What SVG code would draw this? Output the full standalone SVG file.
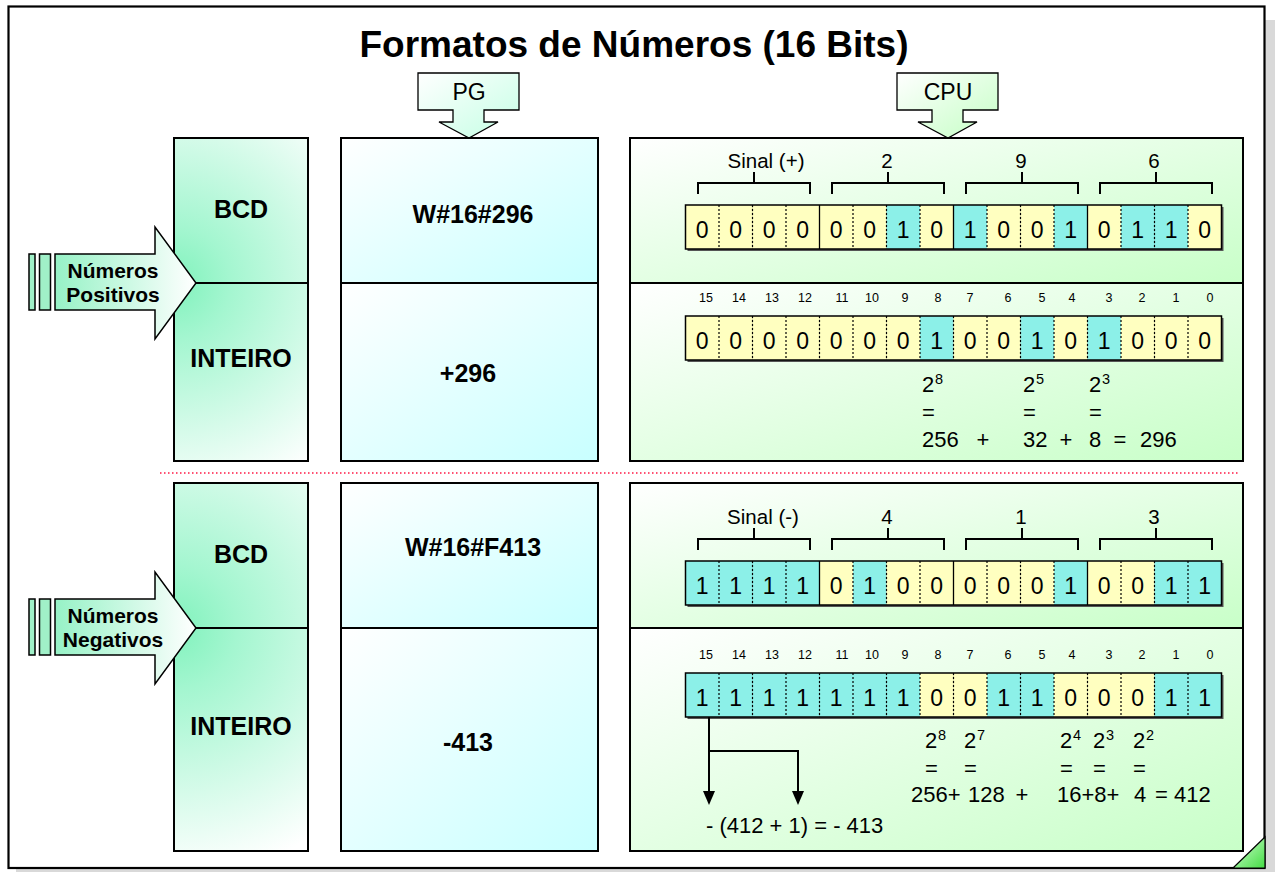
<svg xmlns="http://www.w3.org/2000/svg" width="1275" height="872" viewBox="0 0 1275 872">
  <defs>
    <style>
      text { font-family: "Liberation Sans", Arial, sans-serif; fill: #000; }
      .title { font-size: 37px; font-weight: bold; text-anchor: middle; }
      .lbl { font-size: 25px; font-weight: bold; text-anchor: middle; }
      .arrow-lbl { font-size: 21px; font-weight: bold; text-anchor: middle; }
      .tag { font-size: 23px; text-anchor: middle; }
      .grp { font-size: 20.5px; text-anchor: middle; }
      .idx { font-size: 12.5px; text-anchor: middle; }
      .bt { font-size: 23px; text-anchor: middle; }
      .ann { font-size: 22px; }
      .annm { font-size: 22px; text-anchor: middle; }
      .sup { font-size: 14.5px; }
      .box { stroke: #000; stroke-width: 2; }
      .b0 { fill: #ffffc0; }
      .b1 { fill: #8cf0e8; }
      .sep { stroke: #000; stroke-width: 1.2; stroke-dasharray: 2 2; }
      .sepS { stroke: #000; stroke-width: 1.3; }
      .bo { fill: none; stroke: #000; stroke-width: 1.5; }
      .bsh { fill: #555; }
      .brk { fill: none; stroke: #000; stroke-width: 2; }
      .con { fill: none; stroke: #000; stroke-width: 2; }
      .head { fill: #000; }
    </style>
    <radialGradient id="gTypePos" gradientUnits="userSpaceOnUse" cx="174" cy="283" r="225">
      <stop offset="0" stop-color="#80f2bc"/>
      <stop offset="0.25" stop-color="#a4f6d0"/>
      <stop offset="1" stop-color="#ffffff"/>
    </radialGradient>
    <radialGradient id="gTypeNeg" gradientUnits="userSpaceOnUse" cx="174" cy="628" r="250">
      <stop offset="0" stop-color="#80f2bc"/>
      <stop offset="0.25" stop-color="#a4f6d0"/>
      <stop offset="1" stop-color="#ffffff"/>
    </radialGradient>
    <linearGradient id="gCyan" x1="0" y1="0" x2="1" y2="1">
      <stop offset="0" stop-color="#ffffff"/>
      <stop offset="1" stop-color="#c8ffff"/>
    </linearGradient>
    <linearGradient id="gGreen" x1="0" y1="0" x2="1" y2="1">
      <stop offset="0" stop-color="#ffffff"/>
      <stop offset="1" stop-color="#c8ffc8"/>
    </linearGradient>
    <linearGradient id="gPG" x1="0" y1="0" x2="1" y2="1">
      <stop offset="0" stop-color="#ffffff"/>
      <stop offset="1" stop-color="#c4ffe4"/>
    </linearGradient>
    <linearGradient id="gCPU" x1="0" y1="0" x2="1" y2="1">
      <stop offset="0" stop-color="#ffffff"/>
      <stop offset="1" stop-color="#c4ffc4"/>
    </linearGradient>
    <linearGradient id="gSide" x1="0" y1="0" x2="1" y2="0">
      <stop offset="0" stop-color="#96f2c6"/>
      <stop offset="1" stop-color="#ffffff"/>
    </linearGradient>
    <linearGradient id="gFold" x1="0" y1="0" x2="1" y2="1">
      <stop offset="0" stop-color="#d8ffd8"/>
      <stop offset="1" stop-color="#44dd44"/>
    </linearGradient>
    <!-- downward arrow shape used for the PG / CPU tags -->
    <path id="tagArrow" d="M-51,0 H50 V37 H15 V49 H29 L0,65 L-30,49 H-16 V37 H-51 Z"/>
    <!-- right-pointing arrow with two trailing bars -->
    <g id="sideArrow">
      <rect x="29" y="0" width="6" height="56" fill="#a0f0c8" stroke="#000" stroke-width="1.5"/>
      <rect x="39.5" y="0" width="11" height="56" fill="#a0f0c8" stroke="#000" stroke-width="1.5"/>
      <path d="M55,0 H155 V-27 L196,29 L155,85 V56 H55 Z" fill="url(#gSide)" stroke="#000" stroke-width="1.5"/>
    </g>
  </defs>

  <!-- page with drop shadow -->
  <g id="frame">
    <rect x="16" y="20" width="1259" height="856" fill="#d9d9d9"/>
    <rect x="8.5" y="6.5" width="1256" height="861.5" fill="#ffffff" stroke="#000" stroke-width="2.2"/>
    <polygon points="1233,868 1265,837 1265,868" fill="url(#gFold)" stroke="#000" stroke-width="1.2"/>
  </g>

  <g id="title">
    <text class="title" x="634" y="57">Formatos de Números (16 Bits)</text>
  </g>

  <g id="tag-pg">
    <use href="#tagArrow" x="469" y="73" fill="url(#gPG)" stroke="#000" stroke-width="1.3"/>
    <text class="tag" x="469" y="100">PG</text>
  </g>
  <g id="tag-cpu">
    <use href="#tagArrow" x="948" y="73" fill="url(#gCPU)" stroke="#000" stroke-width="1.3"/>
    <text class="tag" x="948" y="100">CPU</text>
  </g>

  <!-- separator between positive and negative sections -->
  <line x1="160" y1="473" x2="1240" y2="473" stroke="#ff1744" stroke-width="1.5" stroke-dasharray="1.5 2.5"/>

  <!-- ===== positive numbers ===== -->
  <g id="type-pos">
    <rect class="box" x="174" y="138" width="134" height="145" fill="url(#gTypePos)"/>
    <rect class="box" x="174" y="283" width="134" height="178" fill="url(#gTypePos)"/>
    <text class="lbl" x="241" y="218">BCD</text>
    <text class="lbl" x="241" y="367">INTEIRO</text>
  </g>
  <g id="arrow-pos">
    <use href="#sideArrow" x="0" y="254"/>
    <text class="arrow-lbl" x="113" y="278">Números</text>
    <text class="arrow-lbl" x="113" y="302">Positivos</text>
  </g>
  <g id="pg-pos">
    <rect class="box" x="341" y="138" width="257" height="145" fill="url(#gCyan)"/>
    <rect class="box" x="341" y="283" width="257" height="178" fill="url(#gCyan)"/>
    <text class="lbl" x="473" y="223">W#16#296</text>
    <text class="lbl" x="468" y="382">+296</text>
  </g>
  <g id="cpu-pos">
    <rect class="box" x="630" y="138" width="613" height="145" fill="url(#gGreen)"/>
    <rect class="box" x="630" y="283" width="613" height="178" fill="url(#gGreen)"/>

    <!-- nibble brackets -->
    <path class="brk" d="M698,194 V183 H810 V194 M754,183 V172"/>
    <path class="brk" d="M832,194 V183 H944 V194 M888,183 V172"/>
    <path class="brk" d="M966,194 V183 H1078 V194 M1022,183 V172"/>
    <path class="brk" d="M1100,194 V183 H1212 V194 M1156,183 V172"/>
    <text class="grp" x="766" y="168">Sinal (+)</text>
    <text class="grp" x="887" y="168">2</text>
    <text class="grp" x="1021" y="168">9</text>
    <text class="grp" x="1154" y="168">6</text>

    <!-- BCD 0000 0010 1001 0110 -->
    <g id="bits-bcd-pos" transform="translate(685.5,205)">
      <rect class="bsh" x="2" y="2" width="536" height="44"/>
      <rect class="b0" x="0" y="0" width="33.5" height="44"/>
      <rect class="b0" x="33.5" y="0" width="33.5" height="44"/>
      <rect class="b0" x="67" y="0" width="33.5" height="44"/>
      <rect class="b0" x="100.5" y="0" width="33.5" height="44"/>
      <rect class="b0" x="134" y="0" width="33.5" height="44"/>
      <rect class="b0" x="167.5" y="0" width="33.5" height="44"/>
      <rect class="b1" x="201" y="0" width="33.5" height="44"/>
      <rect class="b0" x="234.5" y="0" width="33.5" height="44"/>
      <rect class="b1" x="268" y="0" width="33.5" height="44"/>
      <rect class="b0" x="301.5" y="0" width="33.5" height="44"/>
      <rect class="b0" x="335" y="0" width="33.5" height="44"/>
      <rect class="b1" x="368.5" y="0" width="33.5" height="44"/>
      <rect class="b0" x="402" y="0" width="33.5" height="44"/>
      <rect class="b1" x="435.5" y="0" width="33.5" height="44"/>
      <rect class="b1" x="469" y="0" width="33.5" height="44"/>
      <rect class="b0" x="502.5" y="0" width="33.5" height="44"/>
      <path class="sep" d="M33.5,0V44M67,0V44M100.5,0V44M167.5,0V44M201,0V44M234.5,0V44M301.5,0V44M335,0V44M368.5,0V44M435.5,0V44M469,0V44M502.5,0V44"/>
      <path class="sepS" d="M134,0V44M268,0V44M402,0V44"/>
      <rect class="bo" x="0" y="0" width="536" height="44"/>
      <text class="bt" x="16.75" y="33">0</text>
      <text class="bt" x="50.25" y="33">0</text>
      <text class="bt" x="83.75" y="33">0</text>
      <text class="bt" x="117.25" y="33">0</text>
      <text class="bt" x="150.75" y="33">0</text>
      <text class="bt" x="184.25" y="33">0</text>
      <text class="bt" x="217.75" y="33">1</text>
      <text class="bt" x="251.25" y="33">0</text>
      <text class="bt" x="284.75" y="33">1</text>
      <text class="bt" x="318.25" y="33">0</text>
      <text class="bt" x="351.75" y="33">0</text>
      <text class="bt" x="385.25" y="33">1</text>
      <text class="bt" x="418.75" y="33">0</text>
      <text class="bt" x="452.25" y="33">1</text>
      <text class="bt" x="485.75" y="33">1</text>
      <text class="bt" x="519.25" y="33">0</text>
    </g>

    <!-- bit indices -->
    <g id="idx-pos">
      <text class="idx" x="706" y="302">15</text>
      <text class="idx" x="739" y="302">14</text>
      <text class="idx" x="772" y="302">13</text>
      <text class="idx" x="805" y="302">12</text>
      <text class="idx" x="842" y="302">11</text>
      <text class="idx" x="872" y="302">10</text>
      <text class="idx" x="905" y="302">9</text>
      <text class="idx" x="938" y="302">8</text>
      <text class="idx" x="970" y="302">7</text>
      <text class="idx" x="1008" y="302">6</text>
      <text class="idx" x="1042" y="302">5</text>
      <text class="idx" x="1072" y="302">4</text>
      <text class="idx" x="1109" y="302">3</text>
      <text class="idx" x="1142" y="302">2</text>
      <text class="idx" x="1176" y="302">1</text>
      <text class="idx" x="1210" y="302">0</text>
    </g>

    <!-- integer 0000 0001 0010 1000 -->
    <g id="bits-int-pos" transform="translate(685.5,316)">
      <rect class="bsh" x="2" y="2" width="536" height="44"/>
      <rect class="b0" x="0" y="0" width="33.5" height="44"/>
      <rect class="b0" x="33.5" y="0" width="33.5" height="44"/>
      <rect class="b0" x="67" y="0" width="33.5" height="44"/>
      <rect class="b0" x="100.5" y="0" width="33.5" height="44"/>
      <rect class="b0" x="134" y="0" width="33.5" height="44"/>
      <rect class="b0" x="167.5" y="0" width="33.5" height="44"/>
      <rect class="b0" x="201" y="0" width="33.5" height="44"/>
      <rect class="b1" x="234.5" y="0" width="33.5" height="44"/>
      <rect class="b0" x="268" y="0" width="33.5" height="44"/>
      <rect class="b0" x="301.5" y="0" width="33.5" height="44"/>
      <rect class="b1" x="335" y="0" width="33.5" height="44"/>
      <rect class="b0" x="368.5" y="0" width="33.5" height="44"/>
      <rect class="b1" x="402" y="0" width="33.5" height="44"/>
      <rect class="b0" x="435.5" y="0" width="33.5" height="44"/>
      <rect class="b0" x="469" y="0" width="33.5" height="44"/>
      <rect class="b0" x="502.5" y="0" width="33.5" height="44"/>
      <path class="sep" d="M33.5,0V44M67,0V44M100.5,0V44M134,0V44M167.5,0V44M201,0V44M234.5,0V44M268,0V44M301.5,0V44M335,0V44M368.5,0V44M402,0V44M435.5,0V44M469,0V44M502.5,0V44"/>
      <rect class="bo" x="0" y="0" width="536" height="44"/>
      <text class="bt" x="16.75" y="33">0</text>
      <text class="bt" x="50.25" y="33">0</text>
      <text class="bt" x="83.75" y="33">0</text>
      <text class="bt" x="117.25" y="33">0</text>
      <text class="bt" x="150.75" y="33">0</text>
      <text class="bt" x="184.25" y="33">0</text>
      <text class="bt" x="217.75" y="33">0</text>
      <text class="bt" x="251.25" y="33">1</text>
      <text class="bt" x="284.75" y="33">0</text>
      <text class="bt" x="318.25" y="33">0</text>
      <text class="bt" x="351.75" y="33">1</text>
      <text class="bt" x="385.25" y="33">0</text>
      <text class="bt" x="418.75" y="33">1</text>
      <text class="bt" x="452.25" y="33">0</text>
      <text class="bt" x="485.75" y="33">0</text>
      <text class="bt" x="519.25" y="33">0</text>
    </g>

    <!-- weights: 256 + 32 + 8 = 296 -->
    <g id="sum-pos">
      <text class="ann" x="922" y="392">2</text><text class="sup" x="935" y="384">8</text>
      <text class="ann" x="1023" y="392">2</text><text class="sup" x="1036" y="384">5</text>
      <text class="ann" x="1089" y="392">2</text><text class="sup" x="1102" y="384">3</text>
      <text class="ann" x="922" y="420">=</text>
      <text class="ann" x="1023" y="420">=</text>
      <text class="ann" x="1089" y="420">=</text>
      <text class="ann" x="922" y="447">256</text>
      <text class="annm" x="983" y="447">+</text>
      <text class="ann" x="1023" y="447">32</text>
      <text class="annm" x="1066" y="447">+</text>
      <text class="ann" x="1089" y="447">8</text>
      <text class="annm" x="1120" y="447">=</text>
      <text class="ann" x="1140" y="447">296</text>
    </g>
  </g>

  <!-- ===== negative numbers ===== -->
  <g id="type-neg">
    <rect class="box" x="174" y="483" width="134" height="145" fill="url(#gTypeNeg)"/>
    <rect class="box" x="174" y="628" width="134" height="223" fill="url(#gTypeNeg)"/>
    <text class="lbl" x="241" y="563">BCD</text>
    <text class="lbl" x="241" y="735">INTEIRO</text>
  </g>
  <g id="arrow-neg">
    <use href="#sideArrow" x="0" y="599"/>
    <text class="arrow-lbl" x="113" y="623">Números</text>
    <text class="arrow-lbl" x="113" y="647">Negativos</text>
  </g>
  <g id="pg-neg">
    <rect class="box" x="341" y="483" width="257" height="145" fill="url(#gCyan)"/>
    <rect class="box" x="341" y="628" width="257" height="223" fill="url(#gCyan)"/>
    <text class="lbl" x="473" y="556">W#16#F413</text>
    <text class="lbl" x="468" y="751">-413</text>
  </g>
  <g id="cpu-neg">
    <rect class="box" x="630" y="483" width="613" height="145" fill="url(#gGreen)"/>
    <rect class="box" x="630" y="628" width="613" height="223" fill="url(#gGreen)"/>

    <path class="brk" d="M698,550 V539 H810 V550 M754,539 V528"/>
    <path class="brk" d="M832,550 V539 H944 V550 M888,539 V528"/>
    <path class="brk" d="M966,550 V539 H1078 V550 M1022,539 V528"/>
    <path class="brk" d="M1100,550 V539 H1212 V550 M1156,539 V528"/>
    <text class="grp" x="763" y="524">Sinal (-)</text>
    <text class="grp" x="887" y="524">4</text>
    <text class="grp" x="1021" y="524">1</text>
    <text class="grp" x="1154" y="524">3</text>

    <!-- BCD 1111 0100 0001 0011 -->
    <g id="bits-bcd-neg" transform="translate(685.5,561)">
      <rect class="bsh" x="2" y="2" width="536" height="44"/>
      <rect class="b1" x="0" y="0" width="33.5" height="44"/>
      <rect class="b1" x="33.5" y="0" width="33.5" height="44"/>
      <rect class="b1" x="67" y="0" width="33.5" height="44"/>
      <rect class="b1" x="100.5" y="0" width="33.5" height="44"/>
      <rect class="b0" x="134" y="0" width="33.5" height="44"/>
      <rect class="b1" x="167.5" y="0" width="33.5" height="44"/>
      <rect class="b0" x="201" y="0" width="33.5" height="44"/>
      <rect class="b0" x="234.5" y="0" width="33.5" height="44"/>
      <rect class="b0" x="268" y="0" width="33.5" height="44"/>
      <rect class="b0" x="301.5" y="0" width="33.5" height="44"/>
      <rect class="b0" x="335" y="0" width="33.5" height="44"/>
      <rect class="b1" x="368.5" y="0" width="33.5" height="44"/>
      <rect class="b0" x="402" y="0" width="33.5" height="44"/>
      <rect class="b0" x="435.5" y="0" width="33.5" height="44"/>
      <rect class="b1" x="469" y="0" width="33.5" height="44"/>
      <rect class="b1" x="502.5" y="0" width="33.5" height="44"/>
      <path class="sep" d="M33.5,0V44M67,0V44M100.5,0V44M167.5,0V44M201,0V44M234.5,0V44M301.5,0V44M335,0V44M368.5,0V44M435.5,0V44M469,0V44M502.5,0V44"/>
      <path class="sepS" d="M134,0V44M268,0V44M402,0V44"/>
      <rect class="bo" x="0" y="0" width="536" height="44"/>
      <text class="bt" x="16.75" y="33">1</text>
      <text class="bt" x="50.25" y="33">1</text>
      <text class="bt" x="83.75" y="33">1</text>
      <text class="bt" x="117.25" y="33">1</text>
      <text class="bt" x="150.75" y="33">0</text>
      <text class="bt" x="184.25" y="33">1</text>
      <text class="bt" x="217.75" y="33">0</text>
      <text class="bt" x="251.25" y="33">0</text>
      <text class="bt" x="284.75" y="33">0</text>
      <text class="bt" x="318.25" y="33">0</text>
      <text class="bt" x="351.75" y="33">0</text>
      <text class="bt" x="385.25" y="33">1</text>
      <text class="bt" x="418.75" y="33">0</text>
      <text class="bt" x="452.25" y="33">0</text>
      <text class="bt" x="485.75" y="33">1</text>
      <text class="bt" x="519.25" y="33">1</text>
    </g>

    <g id="idx-neg">
      <text class="idx" x="706" y="659">15</text>
      <text class="idx" x="739" y="659">14</text>
      <text class="idx" x="772" y="659">13</text>
      <text class="idx" x="805" y="659">12</text>
      <text class="idx" x="842" y="659">11</text>
      <text class="idx" x="872" y="659">10</text>
      <text class="idx" x="905" y="659">9</text>
      <text class="idx" x="938" y="659">8</text>
      <text class="idx" x="970" y="659">7</text>
      <text class="idx" x="1008" y="659">6</text>
      <text class="idx" x="1042" y="659">5</text>
      <text class="idx" x="1072" y="659">4</text>
      <text class="idx" x="1109" y="659">3</text>
      <text class="idx" x="1142" y="659">2</text>
      <text class="idx" x="1176" y="659">1</text>
      <text class="idx" x="1210" y="659">0</text>
    </g>

    <!-- integer 1111 1110 0110 0011 -->
    <g id="bits-int-neg" transform="translate(685.5,673)">
      <rect class="bsh" x="2" y="2" width="536" height="44"/>
      <rect class="b1" x="0" y="0" width="33.5" height="44"/>
      <rect class="b1" x="33.5" y="0" width="33.5" height="44"/>
      <rect class="b1" x="67" y="0" width="33.5" height="44"/>
      <rect class="b1" x="100.5" y="0" width="33.5" height="44"/>
      <rect class="b1" x="134" y="0" width="33.5" height="44"/>
      <rect class="b1" x="167.5" y="0" width="33.5" height="44"/>
      <rect class="b1" x="201" y="0" width="33.5" height="44"/>
      <rect class="b0" x="234.5" y="0" width="33.5" height="44"/>
      <rect class="b0" x="268" y="0" width="33.5" height="44"/>
      <rect class="b1" x="301.5" y="0" width="33.5" height="44"/>
      <rect class="b1" x="335" y="0" width="33.5" height="44"/>
      <rect class="b0" x="368.5" y="0" width="33.5" height="44"/>
      <rect class="b0" x="402" y="0" width="33.5" height="44"/>
      <rect class="b0" x="435.5" y="0" width="33.5" height="44"/>
      <rect class="b1" x="469" y="0" width="33.5" height="44"/>
      <rect class="b1" x="502.5" y="0" width="33.5" height="44"/>
      <path class="sep" d="M33.5,0V44M67,0V44M100.5,0V44M134,0V44M167.5,0V44M201,0V44M234.5,0V44M268,0V44M301.5,0V44M335,0V44M368.5,0V44M402,0V44M435.5,0V44M469,0V44M502.5,0V44"/>
      <rect class="bo" x="0" y="0" width="536" height="44"/>
      <text class="bt" x="16.75" y="33">1</text>
      <text class="bt" x="50.25" y="33">1</text>
      <text class="bt" x="83.75" y="33">1</text>
      <text class="bt" x="117.25" y="33">1</text>
      <text class="bt" x="150.75" y="33">1</text>
      <text class="bt" x="184.25" y="33">1</text>
      <text class="bt" x="217.75" y="33">1</text>
      <text class="bt" x="251.25" y="33">0</text>
      <text class="bt" x="284.75" y="33">0</text>
      <text class="bt" x="318.25" y="33">1</text>
      <text class="bt" x="351.75" y="33">1</text>
      <text class="bt" x="385.25" y="33">0</text>
      <text class="bt" x="418.75" y="33">0</text>
      <text class="bt" x="452.25" y="33">0</text>
      <text class="bt" x="485.75" y="33">1</text>
      <text class="bt" x="519.25" y="33">1</text>
    </g>

    <!-- weights of the zero bits: 256 + 128 + 16 + 8 + 4 = 412 -->
    <g id="sum-neg">
      <text class="ann" x="925" y="748">2</text><text class="sup" x="938" y="740">8</text>
      <text class="ann" x="964" y="748">2</text><text class="sup" x="977" y="740">7</text>
      <text class="ann" x="1060" y="748">2</text><text class="sup" x="1073" y="740">4</text>
      <text class="ann" x="1093" y="748">2</text><text class="sup" x="1106" y="740">3</text>
      <text class="ann" x="1133" y="748">2</text><text class="sup" x="1146" y="740">2</text>
      <text class="ann" x="925" y="776">=</text>
      <text class="ann" x="964" y="776">=</text>
      <text class="ann" x="1060" y="776">=</text>
      <text class="ann" x="1093" y="776">=</text>
      <text class="ann" x="1133" y="776">=</text>
      <text class="ann" x="911" y="802">256+</text>
      <text class="ann" x="968" y="802">128</text>
      <text class="annm" x="1022" y="802">+</text>
      <text class="ann" x="1057" y="802">16+8+</text>
      <text class="ann" x="1134" y="802">4</text>
      <text class="ann" x="1155" y="802">= 412</text>
      <text class="ann" x="706" y="833">- (412 + 1) = - 413</text>
    </g>
  </g>

  <!-- sign bit feeding the two's complement result -->
  <g id="connectors">
    <path class="con" d="M709,717 V792"/>
    <polygon class="head" points="703,791 715,791 709,805"/>
    <path class="con" d="M709,751 H798 V792"/>
    <polygon class="head" points="792,791 804,791 798,805"/>
  </g>
</svg>
